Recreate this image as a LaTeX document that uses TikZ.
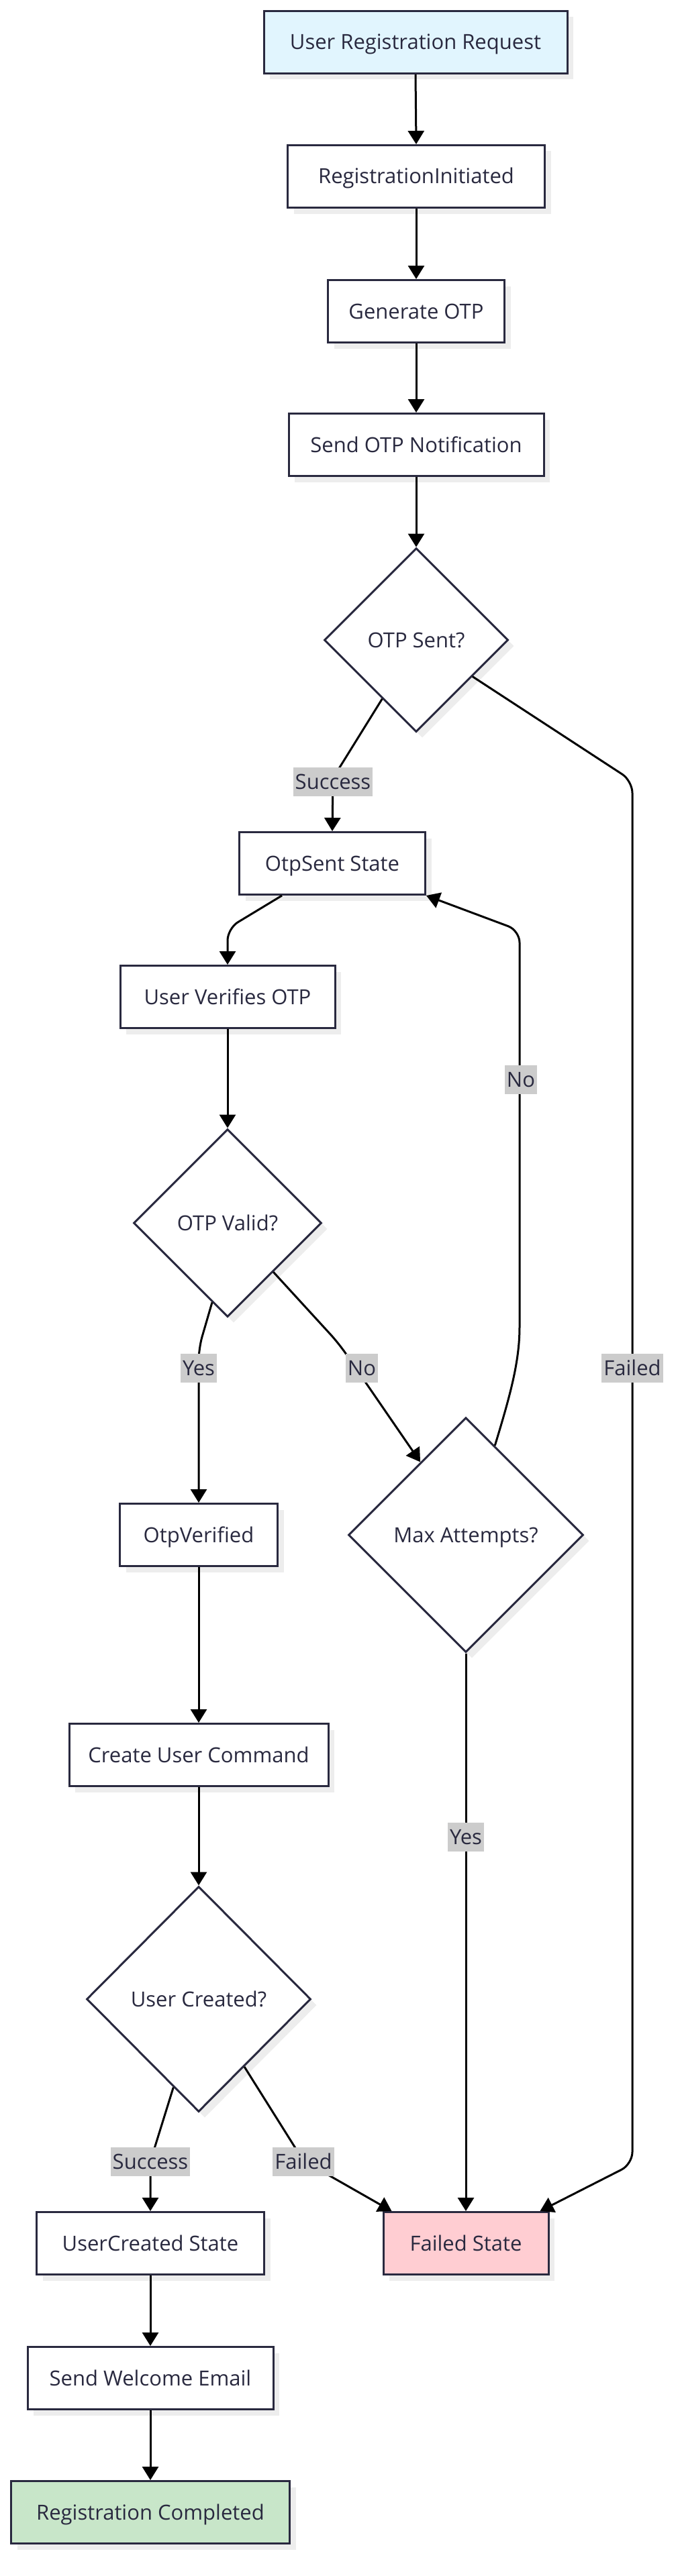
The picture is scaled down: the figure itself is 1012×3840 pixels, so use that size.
\documentclass[tikz,border=0pt]{standalone}
\usepackage{fontspec}
\setmainfont{Open Sans}
\usetikzlibrary{shapes.geometric,arrows.meta,shadows,calc}
\definecolor{ink}{HTML}{29293F}
\definecolor{shadowc}{HTML}{EDEDED}
\definecolor{lblc}{HTML}{CCCCCC}
\definecolor{bluefill}{HTML}{E1F5FE}
\definecolor{redfill}{HTML}{FFCDD2}
\definecolor{greenfill}{HTML}{C8E6C9}
\newcommand{\nodefont}{\fontsize{31}{36}\selectfont}
\begin{document}
\begin{tikzpicture}[x=1pt,y=-1pt,
  base/.style={draw=ink, line width=3pt, text=ink, font=\nodefont, inner sep=0pt,
    text height=22pt, text depth=0pt,
    drop shadow={shadow xshift=9pt,shadow yshift=-9pt,fill=shadowc,opacity=1}},
  box/.style={base, rectangle, fill=white, minimum height=93pt},
  dec/.style={base, diamond, fill=white, aspect=1},
  arr/.style={draw=black, line width=3pt, -{Triangle[length=20pt,width=24pt]}, rounded corners=18pt},
  lbl/.style={fill=lblc, text=ink, font=\nodefont, inner xsep=3pt, inner ysep=0pt,
    text height=22pt, text depth=0pt, minimum height=43pt}
]
\useasboundingbox (0,0) rectangle (1012,3840);
\fill[white] (0,0) rectangle (1012,3840);

% nodes
\node[box, fill=bluefill, minimum width=452pt] (urr) at (619,63) {User Registration Request};
\node[box, minimum width=383pt] (ri) at (620,263) {RegistrationInitiated};
\node[box, minimum width=263pt] (gen) at (620,464) {Generate OTP};
\node[box, minimum width=380pt] (son) at (620,663) {Send OTP Notification};
\node[dec, minimum width=274pt, minimum height=274pt] (otps) at (620,954) {OTP Sent?};
\node[box, minimum width=277pt] (ots) at (495,1287) {OtpSent State};
\node[box, minimum width=320pt] (uvo) at (339,1486) {User Verifies OTP};
\node[dec, minimum width=280pt, minimum height=280pt] (otpv) at (339,1823) {OTP Valid?};
\node[dec, minimum width=350pt, minimum height=350pt] (max) at (694,2288) {Max Attempts?};
\node[box, minimum width=235pt] (otver) at (296,2288) {OtpVerified};
\node[box, minimum width=386pt] (cuc) at (296,2616) {Create User Command};
\node[dec, minimum width=334pt, minimum height=336pt] (uc) at (296,2980) {User Created?};
\node[box, minimum width=339pt] (ucs) at (224,3344) {UserCreated State};
\node[box, fill=redfill, minimum width=246pt] (fail) at (694,3344) {Failed State};
\node[box, minimum width=366pt] (swe) at (224,3545) {Send Welcome Email};
\node[box, fill=greenfill, minimum width=415pt] (rc) at (224,3745) {Registration Completed};

% edges
\draw[arr] (urr.south) -- (ri.north);
\draw[arr] (ri.south) -- (gen.north);
\draw[arr] (gen.south) -- (son.north);
\draw[arr] (son.south) -- (otps.north);
\draw[arr] (otps.240) -- (496,1160) -- (ots.north);
\draw[arr] (otps.-33) -- (942,1164) -- (942,3226) -- ([xshift=-14pt]fail.north east);
\draw[arr] ([xshift=-75pt]ots.south) -- (339,1384) -- (uvo.north);
\draw[arr] (uvo.south) -- (otpv.north);
\draw[arr] (otpv.259) -- (296,2010) -- (otver.north);
\draw[arr] (otpv.-47) -- (505,2003) -- (max.122);
\draw[arr] (max.72) .. controls (760,2080) and (774,2030) .. (774,1960) -- (774,1387) -- (ots.south east);
\draw[arr] (otver.south) -- (cuc.north);
\draw[arr] (cuc.south) -- (uc.north);
\draw[arr] (uc.254) -- (224,3222) -- (ucs.north);
\draw[arr] (uc.-56) -- (452,3221) -- ([xshift=14pt]fail.north west);
\draw[arr] (max.south) -- (fail.north);
\draw[arr] (ucs.south) -- (swe.north);
\draw[arr] (swe.south) -- (rc.north);

% labels
\node[lbl] (l1) at (496,1165) {Success};
\node[lbl] (l2) at (942,2039) {Failed};
\node[lbl] (l3) at (776,1609) {No};
\node[lbl] (l4) at (296,2039) {Yes};
\node[lbl] (l5) at (539,2039) {No};
\node[lbl] (l6) at (694,2738) {Yes};
\node[lbl] (l7) at (224,3222) {Success};
\node[lbl] (l8) at (452,3222) {Failed};
\end{tikzpicture}
\end{document}
